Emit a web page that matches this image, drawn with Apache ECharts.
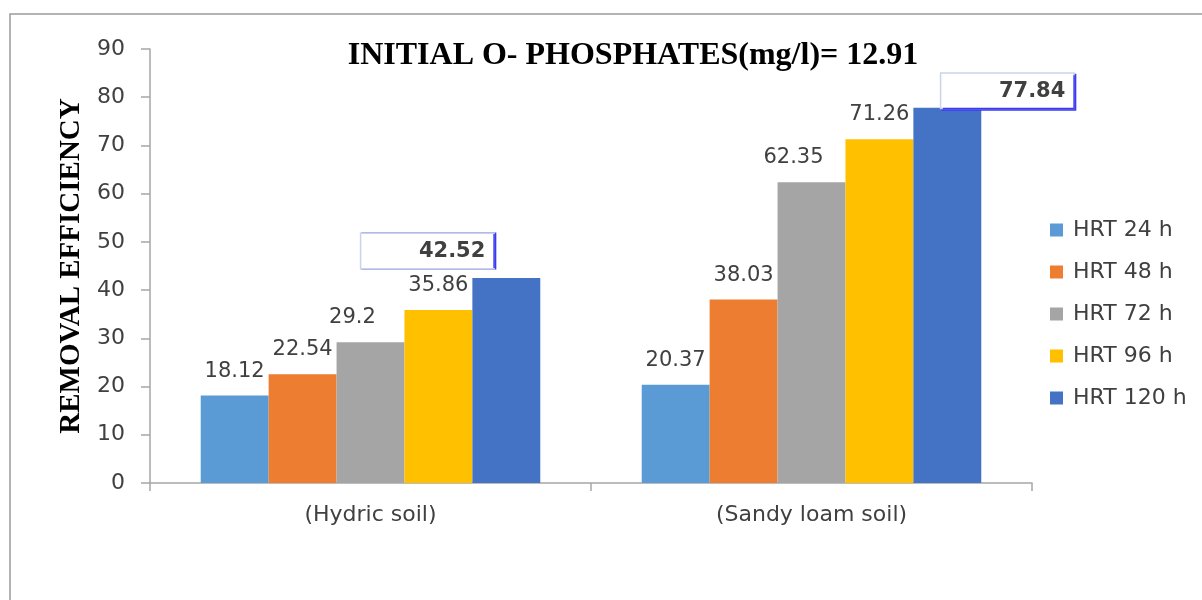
<!DOCTYPE html>
<html>
<head>
<meta charset="utf-8">
<title>Removal efficiency</title>
<script src="https://cdn.jsdelivr.net/npm/echarts@6/dist/echarts.min.js"></script>
<style>
  html, body { margin: 0; padding: 0; background: #fff; }
  #chart { width: 1202px; height: 600px; }
</style>
</head>
<body>
<div id="chart"></div>
<script>
// chart data
const categories = ['(Hydric soil)', '(Sandy loam soil)']
const seriesNames = ['HRT 24 h', 'HRT 48 h', 'HRT 72 h', 'HRT 96 h', 'HRT 120 h']
const hrt24 = [18.12, 20.37]
const hrt48 = [22.54, 38.03]
const hrt72 = [29.2, 62.35]
const hrt96 = [35.86, 71.26]
const hrt120 = [42.52, 77.84]
const yTicks = [0, 10, 20, 30, 40, 50, 60, 70, 80, 90]

const colors = ['#5B9BD5', '#ED7D31', '#A5A5A5', '#FFC000', '#4472C4']
const allValues = [hrt24, hrt48, hrt72, hrt96, hrt120]

const chart = echarts.init(document.getElementById('chart'))

const labelFont = 'DejaVu Sans'

// boxed labels on the 120 h bars
const boxLabel = {
  show: true,
  position: 'top',
  distance: 0,
  width: 116,
  align: 'right',
  padding: [7, 8, 6, 8],
  backgroundColor: '#fff',
  borderColor: '#c9d3ec',
  borderWidth: 1.5,
  shadowColor: '#3a3af0',
  shadowBlur: 0,
  shadowOffsetX: 1.5,
  fontWeight: 'bold',
  fontSize: 21,
  color: '#404040',
  fontFamily: labelFont
}

const series = allValues.map((vals, i) => {
  let data = vals
  if (i === 4) {
    data = vals.map((v, j) => ({
      value: v,
      label: Object.assign({}, boxLabel, j === 0
        ? { offset: [-13, -10] }
        : { offset: [126, 0], shadowOffsetY: 1.5 })
    }))
  }
  return {
    name: seriesNames[i],
    type: 'bar',
    data: data,
    barGap: '0%',
    barCategoryGap: '23%',
    itemStyle: { color: colors[i] },
    label: {
      show: true,
      position: 'top',
      distance: 14,
      offset: i === 2 ? [-18, 0] : [0, 0],
      fontSize: 21,
      color: '#404040',
      fontFamily: labelFont
    }
  }
})

const option = {
  backgroundColor: '#fff',
  animation: false,
  title: {
    text: 'INITIAL O- PHOSPHATES(mg/l)= 12.91',
    left: 628,
    textAlign: 'center',
    top: 35,
    textStyle: {
      fontFamily: 'Liberation Serif',
      fontWeight: 'bold',
      fontSize: 32,
      color: '#000'
    }
  },
  legend: {
    orient: 'vertical',
    left: 1045,
    top: 214,
    itemWidth: 13,
    itemHeight: 13,
    itemGap: 20,
    icon: 'rect',
    textStyle: { fontSize: 22, color: '#404040', fontFamily: labelFont, padding: [0, 0, 0, 5] },
    data: seriesNames
  },
  grid: { left: 150, right: 170, top: 49, bottom: 117 },
  xAxis: {
    type: 'category',
    data: categories,
    axisLine: { lineStyle: { color: '#a6a6a6', width: 1.5 } },
    axisTick: { show: true, length: 8, lineStyle: { color: '#a6a6a6', width: 1.5 } },
    axisLabel: { fontSize: 22, color: '#404040', fontFamily: labelFont, margin: 21 }
  },
  yAxis: {
    type: 'value',
    min: yTicks[0],
    max: yTicks[yTicks.length - 1],
    interval: 10,
    name: 'REMOVAL EFFICIENCY',
    nameLocation: 'middle',
    nameRotate: 90,
    nameGap: 64,
    nameTextStyle: {
      fontFamily: 'Liberation Serif',
      fontWeight: 'bold',
      fontSize: 29,
      color: '#000'
    },
    axisLine: { show: true, lineStyle: { color: '#a6a6a6', width: 1.5 } },
    axisTick: { show: true, length: 9, lineStyle: { color: '#a6a6a6', width: 1.5 } },
    splitLine: { show: false },
    axisLabel: { fontSize: 22, color: '#404040', fontFamily: labelFont, margin: 25 }
  },
  graphic: [{
    type: 'rect',
    shape: { x: 10, y: 14, width: 1250, height: 650 },
    style: { fill: 'none', stroke: '#9a9a9a', lineWidth: 1.5 },
    silent: true
  }],
  series: series
}

chart.setOption(option)
</script>
</body>
</html>
